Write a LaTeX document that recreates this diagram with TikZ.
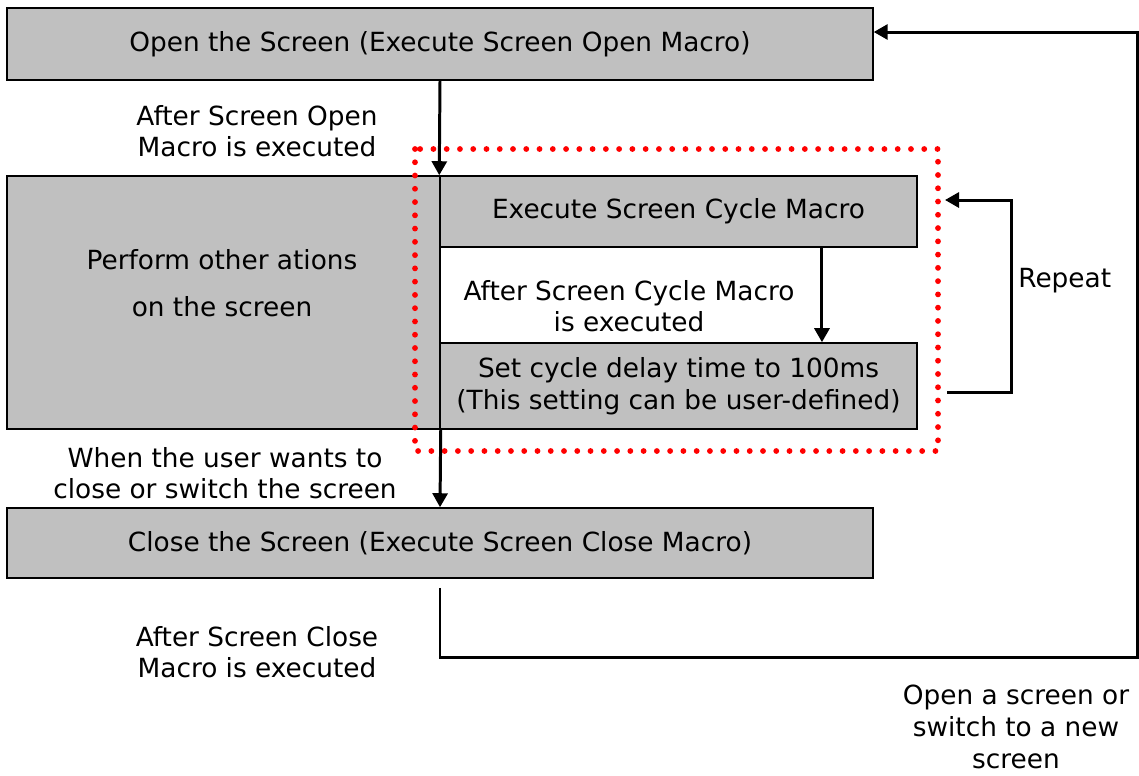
\documentclass[tikz,border=0pt]{standalone}
\usepackage{fontspec}
\setmainfont{DejaVu Sans}
\usetikzlibrary{arrows.meta,positioning}
\definecolor{boxgray}{RGB}{192,192,192}

\begin{document}
\begin{tikzpicture}[
    x=0.02cm, y=-0.02cm,
    font=\fontsize{15}{18}\selectfont,
    box/.style={rectangle, draw, fill=boxgray, line width=0.9pt, inner sep=0pt, align=center},
    note/.style={align=center, inner sep=0pt},
    arrow/.style={-{Triangle[length=0.28cm,width=0.3cm]}, line width=1.7pt},
    frame/.style={draw=red, line width=3.3pt, line cap=round, dash pattern=on 0pt off 7.55pt}
]
\useasboundingbox (0,0) rectangle (1139,775);

\node[box, minimum width=17.32cm, minimum height=1.44cm] (open) at (440,44) {Open the Screen (Execute Screen Open Macro)};
\node[box, minimum width=8.66cm, minimum height=5.06cm] (other) at (223.5,302.5) {};
\node[note] (othertext) at (222,283) {Perform other ations\\[8.6pt]on the screen};
\node[box, minimum width=9.54cm, minimum height=1.42cm] (cycle) at (678.5,211.5) {Execute Screen Cycle Macro};
\node[box, minimum width=9.54cm, minimum height=1.72cm] (delay) at (678.5,386) {Set cycle delay time to 100ms\\(This setting can be user-defined)};
\node[box, minimum width=17.32cm, minimum height=1.40cm] (close) at (440,543) {Close the Screen (Execute Screen Close Macro)};

% labels
\node[note] (opendone) at (257,131) {After Screen Open\\Macro is executed};
\node[note] (cycledone) at (629,306) {After Screen Cycle Macro\\is executed};
\node[note] (userclose) at (225,473) {When the user wants to\\close or switch the screen};
\node[note] (closedone) at (257,652) {After Screen Close\\Macro is executed};
\node[note] (newscreen) at (1016,727) {Open a screen or\\switch to a new\\screen};

% cycle frame
\draw[frame] (415,149) rectangle (938,451);

\coordinate (repfrom) at (947,392);
\coordinate (repto) at (945,200);

\draw[arrow] (open.south) -- (cycle.north west);
\draw[arrow] ([xshift=2.87cm]cycle.south) -- ([xshift=2.87cm]delay.north);
\draw[arrow] (other.south east) -- (close.north);
\draw[arrow] (repfrom) -- ++(64,0) |- node[right, pos=0.29] {Repeat} (repto);
\draw[arrow, shorten <=0.18cm] (close.south) -- ++(0,79) -| ([xshift=5.28cm,yshift=0.24cm]open.east) -- ([yshift=0.24cm]open.east);
\end{tikzpicture}
\end{document}
